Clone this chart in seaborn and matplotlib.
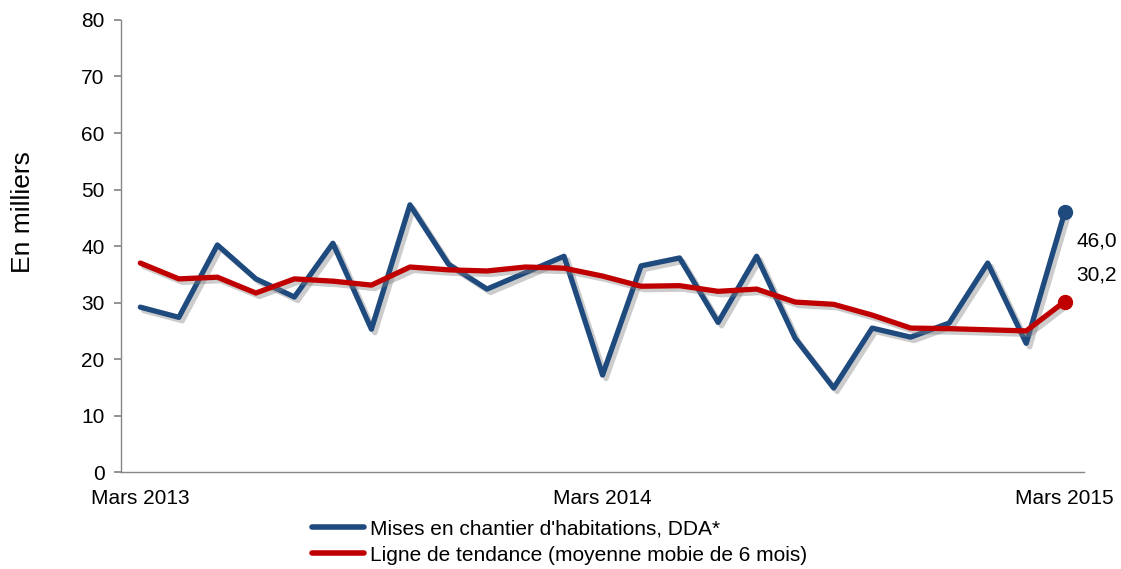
import pandas as pd
import seaborn as sns
import matplotlib.pyplot as plt
import matplotlib.patheffects as pe

# monthly values, Mars 2013 -> Mars 2015
mises_chantier = [29.2, 27.4, 40.2, 34.2, 31.0, 40.5, 25.3, 47.3, 36.8, 32.4,
                  35.3, 38.2, 17.2, 36.5, 37.9, 26.5, 38.2, 23.7, 14.9, 25.5,
                  23.9, 26.4, 37.0, 22.8, 46.0]
tendance = [37.0, 34.2, 34.5, 31.7, 34.2, 33.8, 33.1, 36.3, 35.8, 35.6,
            36.3, 36.1, 34.7, 32.9, 33.0, 32.0, 32.4, 30.1, 29.7, 27.8,
            25.5, 25.4, 25.2, 25.0, 30.2]
tick_pos = [0, 12, 24]
tick_labels = ["Mars 2013", "Mars 2014", "Mars 2015"]
serie_names = ["Mises en chantier d'habitations, DDA*",
               "Ligne de tendance (moyenne mobie de 6 mois)"]
colors = ["#1F4A7E", "#C00000"]

sns.set_theme(style="white", rc={"text.color": "black", "xtick.color": "black",
                                 "ytick.color": "black", "axes.labelcolor": "black"})
plt.rcParams["font.family"] = ["Liberation Sans", "DejaVu Sans"]

months = list(range(len(mises_chantier)))
df = pd.DataFrame({"mois": months * 2,
                   "valeur": mises_chantier + tendance,
                   "serie": [serie_names[0]] * len(months) + [serie_names[1]] * len(months)})

fig = plt.figure(figsize=(11.21, 5.69), dpi=100)
ax = fig.add_axes([0.108, 0.170, 0.859, 0.795])

shadow = [pe.SimpleLineShadow(offset=(2.5, -2.5), shadow_color="gray", alpha=0.4), pe.Normal()]
sns.lineplot(data=df, x="mois", y="valeur", hue="serie", palette=colors,
             linewidth=3.8, ax=ax, legend=False)
for line in ax.get_lines():
    line.set_path_effects(shadow)

# end markers
for vals, c in zip([mises_chantier, tendance], colors):
    ax.plot(months[-1], vals[-1], "o", color=c, markersize=10)

ax.annotate("46,0", xy=(months[-1], mises_chantier[-1]), xytext=(12, -29),
            textcoords="offset pixels", ha="left", va="center", fontsize=15)
ax.annotate("30,2", xy=(months[-1], tendance[-1]), xytext=(12, 27),
            textcoords="offset pixels", ha="left", va="center", fontsize=15)

ax.set_xlim(-0.5, 24.5)
ax.set_ylim(0, 80)
ax.set_yticks(range(0, 81, 10))
ax.set_xticks(tick_pos)
ax.set_xticklabels(tick_labels)
ax.set_xlabel("")
ax.set_ylabel("En milliers", fontsize=19)
ax.yaxis.set_label_coords(-0.089, 0.575)
ax.tick_params(axis="y", length=5, color="#868686", labelsize=15, pad=7, left=True)
ax.tick_params(axis="x", length=0, labelsize=15, pad=12)
sns.despine(ax=ax)
for s in ["left", "bottom"]:
    ax.spines[s].set_color("#868686")
    ax.spines[s].set_linewidth(1)

handles = [plt.Line2D([], [], color=c, linewidth=4) for c in colors]
fig.legend(handles, serie_names, loc="upper left", bbox_to_anchor=(0.278, 0.087),
           frameon=False, fontsize=15, handlelength=2.5, handletextpad=0.3,
           borderpad=0, borderaxespad=0, labelspacing=0.35)

plt.savefig("out.png", dpi=100)
